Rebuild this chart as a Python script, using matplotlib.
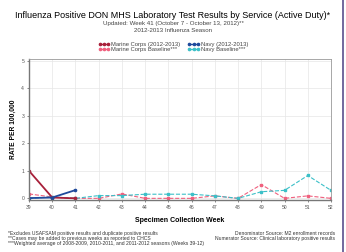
import matplotlib
matplotlib.use('Agg')
import matplotlib.pyplot as plt
from matplotlib.lines import Line2D

plt.rcParams['font.family'] = ['Liberation Sans', 'DejaVu Sans']

weeks = [39, 40, 41, 42, 43, 44, 45, 46, 47, 48, 49, 50, 51, 52]
mc_weeks = [39, 40, 41]
mc_2012 = [1.0, 0.03, 0.0]
navy_2012 = [0.01, 0.03, 0.3]
mc_base = [0.16, 0.05, 0.0, 0.0, 0.16, 0.0, 0.0, 0.0, 0.09, 0.0, 0.5, 0.0, 0.09, 0.0]
navy_base = [0.0, 0.05, 0.0, 0.1, 0.1, 0.15, 0.15, 0.15, 0.09, 0.0, 0.24, 0.29, 0.83, 0.29]

fig = plt.figure(figsize=(3.46, 2.52), dpi=100)
ax = fig.add_axes([29/346, 1 - 200/252, (331-29)/346, (200-59)/252])

ax.plot(weeks, mc_base, color='#f0607e', ls='--', lw=0.8, marker='s', ms=1.6,
        label='Marine Corps Baseline***')
ax.plot(weeks, navy_base, color='#3cc0c8', ls='--', lw=0.8, marker='s', ms=1.6,
        label='Navy Baseline***')
ax.plot(mc_weeks, mc_2012, color='#a8203a', lw=1.3, marker='o', ms=1.6,
        label='Marine Corps (2012-2013)')
ax.plot(mc_weeks, navy_2012, color='#1f4a9c', lw=1.3, marker='o', ms=1.6,
        label='Navy (2012-2013)')

ax.set_xlim(39, 52)
ax.set_ylim(-0.06, 5.06)
ax.set_xticks(weeks)
ax.set_yticks([0, 1, 2, 3, 4, 5])
ax.tick_params(labelsize=3.6, length=1.5, width=0.5, colors='#555555', pad=2)
ax.grid(True, color='#e6e6e6', lw=0.5)
ax.set_axisbelow(True)
for s in ax.spines.values():
    s.set_color('#999999')
    s.set_linewidth(0.6)
ax.spines['left'].set_color('#777777')
ax.spines['left'].set_linewidth(1.0)
ax.spines['bottom'].set_color('#777777')
ax.spines['bottom'].set_linewidth(1.0)

ax.set_xlabel('Specimen Collection Week', fontsize=5.0, fontweight='bold', labelpad=5)
ax.set_ylabel('RATE PER 100,000', fontsize=4.8, fontweight='bold', labelpad=3)

fig.text(0.5, 1 - 15/252, 'Influenza Positive DON MHS Laboratory Test Results by Service (Active Duty)*',
         ha='center', va='center', fontsize=6.5)
fig.text(0.5, 1 - 23/252, 'Updated: Week 41 (October 7 - October 13, 2012)**',
         ha='center', va='center', fontsize=4.4, color='#444444')
fig.text(0.5, 1 - 30/252, '2012-2013 Influenza Season',
         ha='center', va='center', fontsize=4.4, color='#444444')

handles = [
    Line2D([], [], color='#a8203a', lw=1.0, marker='o', ms=1.6),
    Line2D([], [], color='#f0607e', lw=1.0, marker='o', ms=1.6),
    Line2D([], [], color='#1f4a9c', lw=1.0, marker='o', ms=1.6),
    Line2D([], [], color='#3cc0c8', lw=1.0, marker='o', ms=1.6),
]
labels = ['Marine Corps (2012-2013)', 'Marine Corps Baseline***',
          'Navy (2012-2013)', 'Navy Baseline***']
fig.legend(handles, labels, loc='center', bbox_to_anchor=(0.5, 1 - 47/252), ncol=2,
           fontsize=4.2, frameon=False, numpoints=3, handlelength=2.0,
           handletextpad=0.2, columnspacing=1.3, labelspacing=0.05, borderpad=0,
           labelcolor='#444444')

left_notes = ('*Excludes USAFSAM positive results and duplicate positive results\n'
              '**Cases may be added to previous weeks as reported to CHCS\n'
              '***Weighted average of 2008-2009, 2010-2011, and 2011-2012 seasons (Weeks 39-12)')
right_notes = ('Denominator Source: M2 enrollment records\n'
               'Numerator Source: Clinical laboratory positive results')
fig.text(8/346, 1 - 231/252, left_notes, ha='left', va='top', fontsize=3.6,
         color='#333333', linespacing=1.0)
fig.text(335/346, 1 - 231/252, right_notes, ha='right', va='top', fontsize=3.6,
         color='#333333', linespacing=1.0)

fig.add_artist(Line2D([343/346, 343/346], [0, 1], color='#5a4f8e', lw=1.2,
                      transform=fig.transFigure))

fig.savefig('out.png', dpi=100)
